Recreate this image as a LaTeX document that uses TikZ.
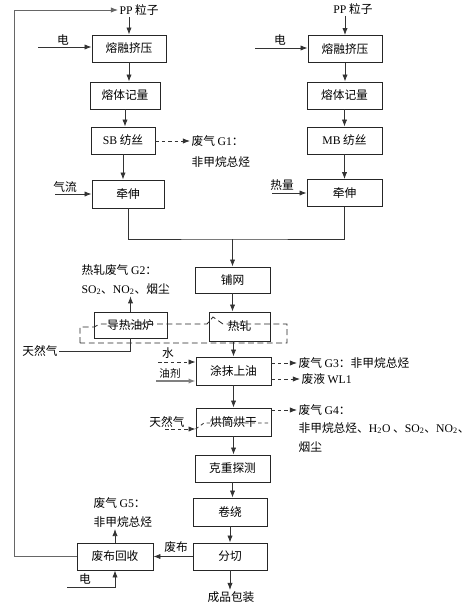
\documentclass[tikz,border=0pt]{standalone}
\usepackage{fontspec}
\setmainfont{Liberation Serif}
\newfontfamily\cjk{Noto Sans CJK SC}
\usetikzlibrary{arrows.meta}
\newcommand{\lat}[1]{{\rmfamily #1}}

\begin{document}
\begin{tikzpicture}[x=0.03cm,y=-0.03cm,>={Latex[length=6pt,width=4.5pt]},line width=0.7pt,
  box/.style={draw=black!85,font=\cjk\fontsize{10}{12}\selectfont,minimum width=2.22cm,minimum height=0.81cm,inner sep=1pt},
  lbl/.style={font=\cjk\fontsize{10}{12}\selectfont,inner sep=1pt},
  flow/.style={->,black!80},
  gas/.style={->,black!80,dash pattern=on 3pt off 2.5pt}]
\useasboundingbox (0,0) rectangle (473,612);
% left line: SB
\node[lbl,anchor=west] (ppL) at (118,10){\lat{PP} 粒子};
\node[box] (melt1) at (129,48.5){熔融挤压};
\node[box,minimum width=2.1cm] (meter1) at (125,95.5){熔体记量};
\node[box,minimum width=1.92cm] (sb) at (123,140.5){\lat{SB} 纺丝};
\node[box,minimum width=2.16cm,minimum height=0.84cm] (draw1) at (128,194){牵伸};
\node[lbl] (elec1) at (63,40){电};
\node[lbl] (air) at (65,187){气流};
\coordinate (e1) at (38,47);
\coordinate (a1) at (55,194);
\draw[flow] (melt1 |- ppL.south) -- (melt1);
\draw[flow] (e1) -- (e1 -| melt1.west);
\draw[flow] (melt1) -- (melt1 |- meter1.north);
\draw[flow] (meter1) -- (meter1 |- sb.north);
\draw[flow] (sb) -- (sb |- draw1.north);
\draw[flow] (a1) -- (draw1);
\node[lbl,anchor=west] (g1a) at (190,141){废气 \lat{G1}：};
\node[lbl,anchor=west] (g1b) at (190,162){非甲烷总烃};
\draw[gas] (sb.east |- g1a) -- (g1a);
% right line: MB
\node[lbl] (ppR) at (353,9){\lat{PP} 粒子};
\node[box] (melt2) at (345,49){熔融挤压};
\node[box,minimum width=2.25cm] (meter2) at (344.5,95.5){熔体记量};
\node[box,minimum width=2.25cm] (mb) at (344.5,140.5){\lat{MB} 纺丝};
\node[box,minimum width=2.25cm] (draw2) at (344.5,193){牵伸};
\node[lbl] (elec2) at (280,40){电};
\node[lbl] (heat) at (282,185){热量};
\coordinate (e2) at (255,48);
\coordinate (h2) at (272,193);
\draw[flow] (melt2 |- ppR.south) -- (melt2);
\draw[flow] (e2) -- (e2 -| melt2.west);
\draw[flow] (melt2) -- (melt2 |- meter2.north);
\draw[flow] (meter2) -- (meter2 |- mb.north);
\draw[flow] (mb) -- (mb |- draw2.north);
\draw[flow] (h2) -- (draw2);
% common line
\coordinate (merge) at (232.5,239);
\node[box,minimum width=2.25cm,minimum height=0.78cm] (lay) at (232.5,280){铺网};
\node[box,minimum width=1.83cm,minimum height=0.87cm] (roll) at (239.5,326.5){热轧};
\node[box,minimum width=2.19cm,minimum height=0.78cm] (oven) at (130.5,325){导热油炉};
\node[box,minimum width=2.25cm,minimum height=0.84cm] (oil) at (233.5,371){涂抹上油};
\node[box,minimum width=2.25cm,minimum height=0.84cm] (dry) at (233.5,422){烘筒烘干};
\node[box,minimum width=2.25cm] (weigh) at (232.5,468.5){克重探测};
\node[box,minimum height=0.84cm] (wind) at (230,512){卷绕};
\node[box] (cut) at (230,556.5){分切};
\node[box,minimum width=2.28cm] (recyc) at (115,556.5){废布回收};
\draw[black!80] (draw1) |- (merge) -| (draw2);
\draw[flow] (merge) -- (lay);
\draw[flow] (lay) -- (lay |- roll.north);
\draw[flow] (oil |- roll.south) -- (oil);
\draw[flow] (oil) -- (dry);
\draw[flow] (dry) -- (dry |- weigh.north);
\draw[flow] (weigh) -- (weigh |- wind.north);
\draw[flow] (wind) -- (cut);
% heat loop
\draw[black!85,dash pattern=on 5pt off 3pt] (80,343) -- (80,327) -- (94,327) -- (100,324) -- (207,324) -- (213,317) -- (223,324) -- (287,324) -- (287,343) -- cycle;
\node[lbl,anchor=west] (g2a) at (80,270){热轧废气 \lat{G2}：};
\node[lbl,anchor=west] (g2b) at (80,289){\lat{SO\textsubscript{2}}、\lat{NO\textsubscript{2}}、烟尘};
\node[lbl] (gas1) at (40,351){天然气};
\draw[flow] (oven) -- (oven |- g2b.south);
\draw[black!80] (oven) |- (gas1);
% oiling
\node[lbl] (water) at (168,353){水};
\node[lbl,font=\cjk\small] (agent) at (170,373){油剂};
\coordinate (w0) at (158,362);
\coordinate (o0) at (156,381);
\draw[gas] (w0) -- (w0 -| oil.west);
\draw[->,gray,line width=1.2pt] (o0) -- (o0 -| oil.west);
\node[lbl,anchor=west] (g3) at (297,363){废气 \lat{G3}：非甲烷总烃};
\node[lbl,anchor=west] (wl1) at (300,379){废液 \lat{WL1}};
\draw[gas] (oil.east |- g3) -- (g3);
\draw[gas] (oil.east |- wl1) -- (wl1);
% drying
\node[lbl] (gas2) at (167,422){天然气};
\coordinate (n0) at (165,429);
\draw[gas] (n0) -- (n0 -| dry.west);
\draw[black!80,dash pattern=on 3pt off 2.5pt] (n0 -| dry.west) -- (204,423) -- (268,423);
\node[lbl,anchor=west] (g4a) at (297,410){废气 \lat{G4}：};
\node[lbl,anchor=west] (g4b) at (297,428){非甲烷总烃、\lat{H\textsubscript{2}O} 、\lat{SO\textsubscript{2}}、\lat{NO\textsubscript{2}}、};
\node[lbl,anchor=west] (g4c) at (297,447){烟尘};
\draw[gas] (dry.east |- g4a) -- (g4a);
% cutting and recycling
\node[lbl] (product) at (231,597){成品包装};
\node[lbl] (waste) at (176,547){废布};
\node[lbl,anchor=west] (g5a) at (92,503){废气 \lat{G5}：};
\node[lbl,anchor=west] (g5b) at (92,522){非甲烷总烃};
\node[lbl] (elec3) at (85,579){电};
\coordinate (e3) at (67,587);
\coordinate (fb) at (14,10);
\draw[flow] (cut) -- (cut |- product.north);
\draw[flow] (cut) -- (recyc);
\draw[flow] (recyc) -- (recyc |- g5b.south);
\draw[flow] (e3) -| (recyc);
\draw[->,black!60] (recyc.west) -| (fb) -- (ppL.west);
\end{tikzpicture}
\end{document}
